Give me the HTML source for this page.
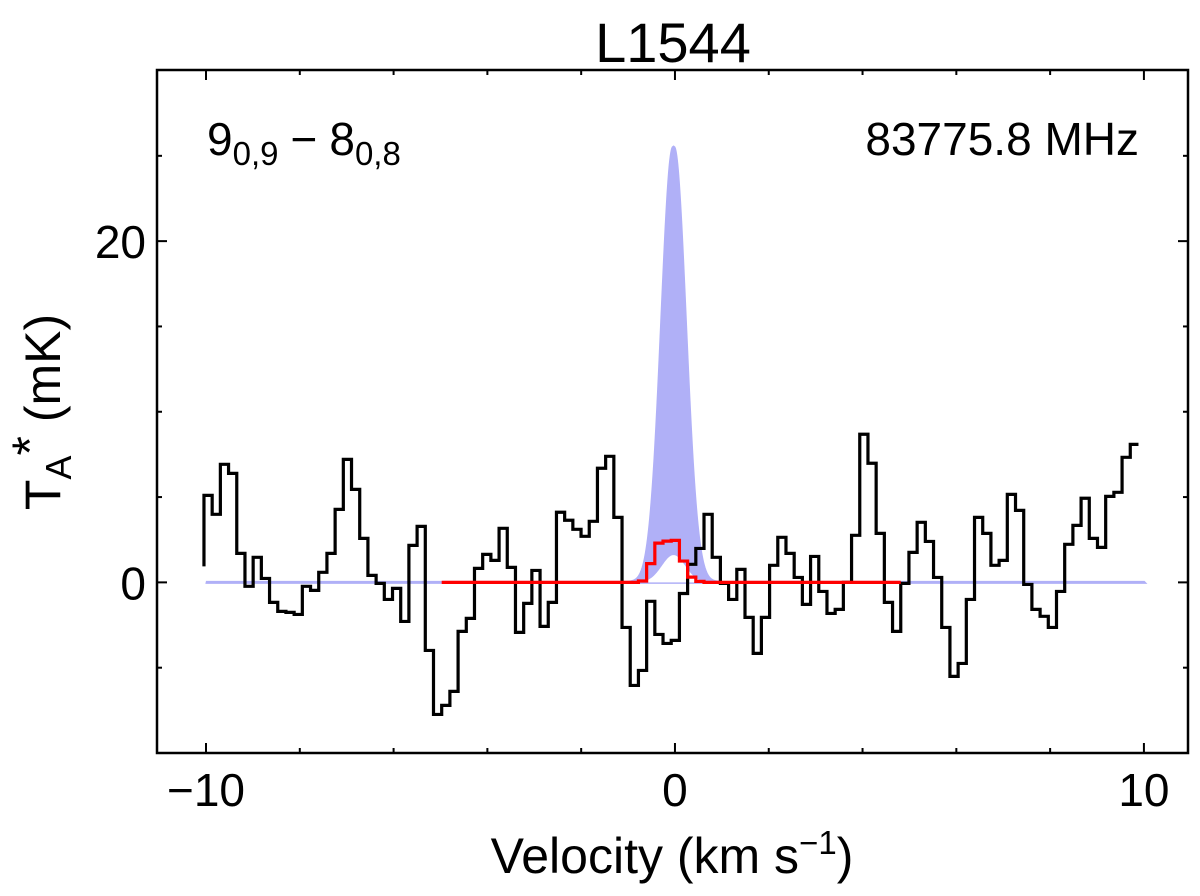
<!DOCTYPE html>
<html><head><meta charset="utf-8"><style>
html,body{margin:0;padding:0;background:#fff;}
svg{display:block;font-family:"Liberation Sans","DejaVu Sans",sans-serif;}
</style></head><body>
<svg id="chart" width="1200" height="896" viewBox="0 0 1200 896">
<g id="plot"></g>
<text x="673" y="62" font-size="56" text-anchor="middle">L1544</text>
<text x="207" y="155" font-size="46">9<tspan font-size="33" dy="10">0,9</tspan><tspan dy="-10" dx="12">−</tspan><tspan dx="12">8</tspan><tspan font-size="33" dy="10">0,8</tspan></text>
<text x="1139" y="155" font-size="46" text-anchor="end">83775.8 MHz</text>
<text x="672" y="873" font-size="50" text-anchor="middle">Velocity (km s<tspan font-size="33" dy="-19">−1</tspan><tspan dy="19">)</tspan></text>
<text transform="translate(60,412) rotate(-90)" font-size="50" text-anchor="middle">T<tspan font-size="36" dy="11">A</tspan><tspan dy="-24">*</tspan><tspan dy="13"> (mK)</tspan></text>
</svg>
<script>
const obsT = [5.10,3.99,6.92,6.39,1.70,-0.23,1.47,0.23,-1.17,-1.70,-1.76,-1.88,-0.23,-0.47,0.59,1.70,4.28,7.21,5.45,2.58,0.41,-0.06,-1.00,-0.35,-2.29,2.17,3.28,-3.99,-7.74,-7.21,-6.39,-2.87,-2.11,0.82,1.64,1.29,3.17,0.88,-2.93,-1.23,0.70,-2.58,-1.17,4.11,3.64,3.11,2.70,3.58,6.69,7.39,3.81,-2.64,-6.04,-5.16,-1.11,-3.05,-3.58,-3.40,-0.65,1.06,1.99,3.99,1.47,-0.06,-1.00,0.76,-2.05,-4.16,-2.05,1.00,2.64,1.70,0.29,-1.29,1.52,-0.53,-1.82,-1.58,0.00,2.76,8.68,6.98,2.87,-1.17,-2.87,-0.06,1.76,3.52,2.40,0.29,-2.64,-5.51,-4.75,-1.00,3.81,2.87,1.00,1.29,5.16,4.22,-0.12,-1.58,-1.99,-2.64,-0.53,2.23,3.34,4.93,2.58,2.05,5.04,5.28,7.33,8.09];
const obsStartT = 0.94;
const velStart = -9.956;
const velStep = 0.1748;
const modelBinStart = 29;
const modelT = [0,0,0,0,0,0,0,0,0,0,0,0,0,0,0,0,0,0,0,0,0,0,0,0,0.08,1.1,2.3,2.42,2.46,1.25,0.31,0.06,0,0,0,0,0,0,0,0,0,0,0,0,0,0,0,0,0,0,0,0,0,0,0,0];
const gaussPeak = 25.5, gaussCenter = -0.03, gaussSigma = 0.25;
const innerPeak = 1.6;
const xTicks = [-10,0,10];
const xMinor = [-8,-6,-4,-2,2,4,6,8];
const yTicks = [0,20];
const yMinor = [-5,5,10,15,25];

const L=157,R=1188,T=70,B=753, xmin=-11.045, xmax=10.94, ymin=-10.0, ymax=30.03;
const sx=v=>L+(v-xmin)/(xmax-xmin)*(R-L);
const sy=t=>B-(t-ymin)/(ymax-ymin)*(B-T);
const NS='http://www.w3.org/2000/svg';
const g=document.getElementById('plot');
function mk(tag,attrs){const e=document.createElementNS(NS,tag);for(const k in attrs)e.setAttribute(k,attrs[k]);g.appendChild(e);return e;}

let d='M'+sx(-10)+','+sy(0);
for(let v=-10;v<=10.0001;v+=0.01){d+=' L'+sx(v).toFixed(2)+','+sy(gaussPeak*Math.exp(-0.5*((v-gaussCenter)/gaussSigma)**2)).toFixed(2);}
d+=' L'+sx(10)+','+sy(0)+'Z';
const gf=mk('path',{d:d,fill:'#b0b0f7',stroke:'#b0b0f7','stroke-width':3});


let d2='M'+sx(-1)+','+sy(0);
for(let v=-1;v<=1.0001;v+=0.01){d2+=' L'+sx(v).toFixed(2)+','+sy(innerPeak*Math.exp(-0.5*((v-gaussCenter)/gaussSigma)**2)).toFixed(2);}
d2+='Z';
const wf=mk('path',{d:d2,fill:'#fff'});



let p='M'+sx(velStart-velStep*0.5).toFixed(2)+','+sy(obsStartT).toFixed(2)+' ';
for(let i=0;i<obsT.length;i++){
  const x0=sx(velStart+velStep*(i-0.5)), x1=sx(velStart+velStep*(i+0.5)), y=sy(obsT[i]);
  p+='L'+x0.toFixed(2)+','+y.toFixed(2)+' L'+x1.toFixed(2)+','+y.toFixed(2)+' ';
}
const ol=mk('path',{d:p,fill:'none',stroke:'#000','stroke-width':3.2,'stroke-linejoin':'miter'});



let q='';
for(let j=0;j<modelT.length;j++){
  const i=modelBinStart+j;
  const x0=sx(velStart+velStep*(i-0.5)), x1=sx(velStart+velStep*(i+0.5)), y=sy(modelT[j]);
  q+=(j===0?'M':'L')+x0.toFixed(2)+','+y.toFixed(2)+' L'+x1.toFixed(2)+','+y.toFixed(2)+' ';
}
const rl=mk('path',{d:q,fill:'none',stroke:'#ff0000','stroke-width':3.2});



const fr=mk('rect',{x:L,y:T,width:R-L,height:B-T,fill:'none',stroke:'#000','stroke-width':2.5});



function tick(x1,y1,x2,y2,name){const t=mk('line',{x1:x1,y1:y1,x2:x2,y2:y2,stroke:'#000','stroke-width':2});}
xTicks.forEach(v=>{tick(sx(v),B,sx(v),B-10,'x-major-tick');tick(sx(v),T,sx(v),T+10,'x-major-tick');
  const t=mk('text',{x:sx(v),y:806,'font-size':46,'text-anchor':'middle'});t.textContent=v<0?'−'+(-v):String(v);
  
  });
xMinor.forEach(v=>{tick(sx(v),B,sx(v),B-5,'x-minor-tick');tick(sx(v),T,sx(v),T+5,'x-minor-tick');});
yTicks.forEach(v=>{tick(L,sy(v),L+10,sy(v),'y-major-tick');tick(R,sy(v),R-10,sy(v),'y-major-tick');
  const t=mk('text',{x:146,y:sy(v)+17,'font-size':46,'text-anchor':'end'});t.textContent=String(v);
  
  });
yMinor.forEach(v=>{tick(L,sy(v),L+5,sy(v),'y-minor-tick');tick(R,sy(v),R-5,sy(v),'y-minor-tick');});
</script>
</body></html>
